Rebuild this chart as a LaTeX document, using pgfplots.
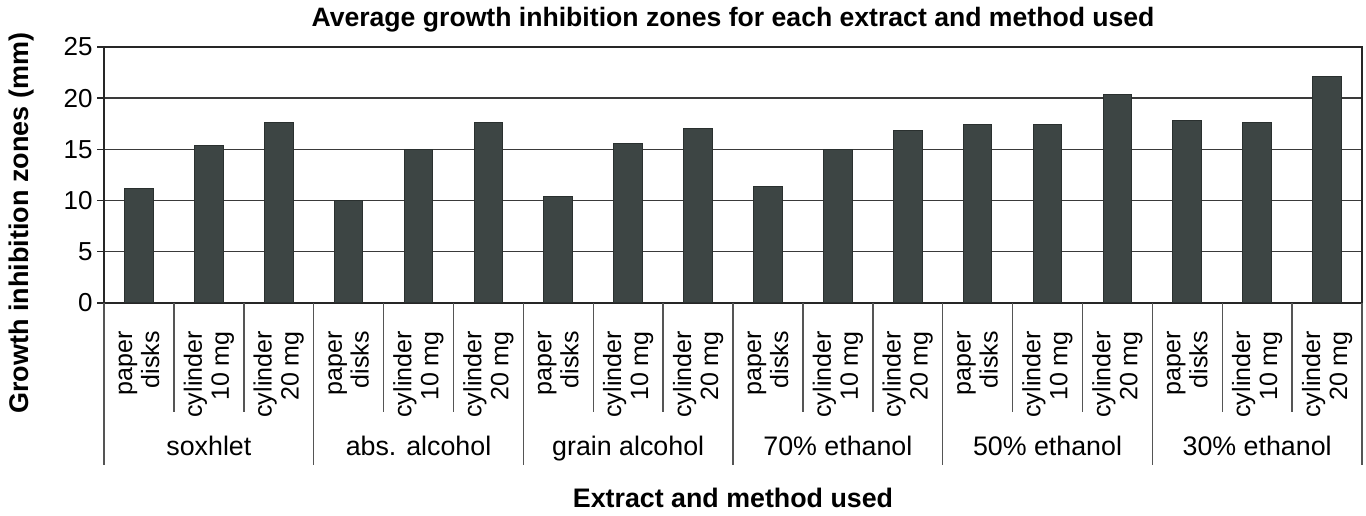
\documentclass[border=0pt]{standalone}
\usepackage{pgfplots}
\pgfplotsset{compat=1.18}
\usepackage{fontspec}
\setmainfont{Liberation Sans}
\definecolor{barfill}{HTML}{3D4544}
\definecolor{bardraw}{HTML}{2A302F}
\definecolor{gridc}{HTML}{3A3A3A}
\definecolor{sepc}{HTML}{555555}
\begin{document}
\begin{tikzpicture}
\begin{axis}[
  scale only axis,
  width=629pt, height=128pt,
  xmin=-0.5, xmax=17.5,
  ymin=0, ymax=25,
  ytick={0,5,10,15,20,25},
  ymajorgrids,
  grid style={gridc, line width=0.7pt},
  axis line style={black!85, line width=0.7pt},
  ytick pos=left,
  tick align=outside,
  major tick length=3.5pt,
  ytick style={black!85, line width=0.7pt},
  xtick={0,...,17},
  xtick style={draw=none},
  xticklabels={{paper\\disks},{cylinder\\10 mg},{cylinder\\20 mg},
               {paper\\disks},{cylinder\\10 mg},{cylinder\\20 mg},
               {paper\\disks},{cylinder\\10 mg},{cylinder\\20 mg},
               {paper\\disks},{cylinder\\10 mg},{cylinder\\20 mg},
               {paper\\disks},{cylinder\\10 mg},{cylinder\\20 mg},
               {paper\\disks},{cylinder\\10 mg},{cylinder\\20 mg}},
  xticklabel style={rotate=90, anchor=east, align=right, inner xsep=10.5pt, inner ysep=0pt,
                    font=\fontsize{12.5}{13.5}\selectfont},
  yticklabel style={font=\fontsize{13}{14}\selectfont, inner sep=1pt, xshift=-1pt},
  /pgf/number format/assume math mode=true,
  ybar, bar width=0.41,
  clip=false,
]
\addplot[fill=barfill, draw=bardraw, line width=0.5pt] coordinates {
 (0,11.15) (1,15.4) (2,17.6)
 (3,10.0) (4,15.0) (5,17.6)
 (6,10.4) (7,15.6) (8,17.0)
 (9,11.4) (10,15.0) (11,16.8)
 (12,17.4) (13,17.4) (14,20.4)
 (15,17.8) (16,17.6) (17,22.1)
};
\pgfplotsinvokeforeach{0.5,1.5,3.5,4.5,6.5,7.5,9.5,10.5,12.5,13.5,15.5,16.5}{
  \draw[sepc, line width=0.7pt] (axis cs:#1,0) -- ++(0pt,-54.5pt);
}
\pgfplotsinvokeforeach{-0.5,2.5,5.5,8.5,11.5,14.5,17.5}{
  \draw[sepc, line width=0.7pt] (axis cs:#1,0) -- ++(0pt,-81pt);
}
\tikzset{grp/.style={font=\fontsize{13.4}{15}\selectfont, anchor=base, inner sep=0pt}}
\node[grp] at ([yshift=-76.5pt]axis cs:1,0) {soxhlet};
\node[grp] at ([yshift=-76.5pt]axis cs:4,0) {abs. alcohol};
\node[grp] at ([yshift=-76.5pt]axis cs:7,0) {grain alcohol};
\node[grp] at ([yshift=-76.5pt]axis cs:10,0) {70\% ethanol};
\node[grp] at ([yshift=-76.5pt]axis cs:13,0) {50\% ethanol};
\node[grp] at ([yshift=-76.5pt]axis cs:16,0) {30\% ethanol};
\node[font=\fontsize{13.3}{15}\selectfont\bfseries, anchor=center, inner sep=0pt]
  at (axis description cs:0.5,1.105) {Average growth inhibition zones for each extract and method used};
\node[font=\fontsize{13.5}{15}\selectfont\bfseries, anchor=center, inner sep=0pt, rotate=90]
  at (axis description cs:-0.0652,0.312) {Growth inhibition zones (mm)};
\node[font=\fontsize{13.4}{15}\selectfont\bfseries, anchor=center, inner sep=0pt]
  at (axis description cs:0.5,-0.762) {Extract and method used};
\path (axis description cs:-0.0827,-0.832) rectangle (axis description cs:1.00318,1.1836);
\end{axis}
\end{tikzpicture}
\end{document}
